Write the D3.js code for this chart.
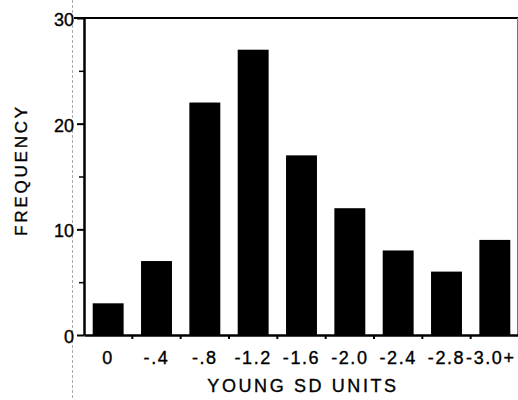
<!DOCTYPE html>
<html>
<head>
<meta charset="utf-8">
<script src="https://cdn.jsdelivr.net/npm/d3@7"></script>
<style>
  body { margin: 0; background: #fff; }
  svg text { font-family: "Liberation Sans", Arial, Helvetica, sans-serif; fill: #000; stroke: #000; stroke-width: 0.35px; }
</style>
</head>
<body>
<div id="app"></div>
<script>
'use strict'

const categories = ['0', '-.4', '-.8', '-1.2', '-1.6', '-2.0', '-2.4', '-2.8', '-3.0+']
const frequency = [3, 7, 22, 27, 17, 12, 8, 6, 9]
const majorTicks = [0, 10, 20, 30]
const minorTicks = [5, 15, 25]

const W = 518, H = 400
const plot = { left: 84, right: 519, top: 18, bottom: 335 }

const svg = d3.select('#app')
  .append('svg')
  .attr('width', W)
  .attr('height', H)

// scan fold line on the left
svg.append('line')
  .attr('x1', 72.5).attr('x2', 72.5)
  .attr('y1', 0).attr('y2', H)
  .attr('stroke', '#aaa')
  .attr('stroke-width', 1)
  .attr('stroke-dasharray', '3,2')

const x = d3.scaleBand()
  .domain(categories)
  .range([plot.left, plot.right])
  .paddingInner(0.36)
  .paddingOuter(0.18)

const y = d3.scaleLinear()
  .domain([0, 30])
  .range([plot.bottom, plot.top])

// frame: top and right
svg.append('line')
  .attr('x1', 74).attr('x2', W)
  .attr('y1', y(30)).attr('y2', y(30))
  .attr('stroke', '#000').attr('stroke-width', 2)

svg.append('line')
  .attr('x1', 517.5).attr('x2', 517.5)
  .attr('y1', y(30)).attr('y2', plot.bottom)
  .attr('stroke', '#777').attr('stroke-width', 1)

// bars
svg.selectAll('.bar')
  .data(frequency)
  .enter().append('rect')
  .attr('class', 'bar')
  .attr('x', (d, i) => x(categories[i]))
  .attr('y', d => y(d))
  .attr('width', x.bandwidth())
  .attr('height', d => y(0) - y(d))
  .attr('fill', '#000')

// y axis
const yAxis = svg.append('g')
  .attr('transform', `translate(${plot.left}, 0)`)
  .call(d3.axisLeft(y).tickValues(majorTicks).tickSize(7).tickPadding(3).tickSizeOuter(0))

yAxis.select('.domain').attr('stroke-width', 2.5)
yAxis.selectAll('.tick line').attr('stroke-width', 2)
yAxis.selectAll('.tick text').style('font-size', '18px').attr('dy', '0.42em')

svg.append('g')
  .attr('transform', `translate(${plot.left}, 0)`)
  .call(d3.axisLeft(y).tickValues(minorTicks).tickSize(5).tickFormat(''))
  .call(g => g.select('.domain').remove())
  .selectAll('line').attr('stroke-width', 1.5)

// x axis: labels centred under bars, ticks on bar boundaries
const xAxis = svg.append('g')
  .attr('transform', `translate(0, ${plot.bottom})`)
  .call(d3.axisBottom(x).tickSize(0).tickPadding(16).tickSizeOuter(0))

xAxis.select('.domain').attr('stroke-width', 2.5)
xAxis.selectAll('.tick text')
  .style('font-size', '18px')
  .style('letter-spacing', '1.6px')
  .attr('dx', (d, i) => i === categories.length - 1 ? -4 : 0)

const boundaries = d3.range(1, categories.length).map(i => plot.left + i * x.step())
svg.selectAll('.xtick')
  .data(boundaries)
  .enter().append('line')
  .attr('class', 'xtick')
  .attr('x1', d => d).attr('x2', d => d)
  .attr('y1', plot.bottom).attr('y2', plot.bottom + 4)
  .attr('stroke', '#000').attr('stroke-width', 2)

// titles
svg.append('text')
  .attr('x', 303)
  .attr('y', 392)
  .attr('text-anchor', 'middle')
  .style('font-size', '18px')
  .style('letter-spacing', '2.6px')
  .text('YOUNG SD UNITS')

svg.append('text')
  .attr('transform', 'translate(27, 170) rotate(-90)')
  .attr('text-anchor', 'middle')
  .style('font-size', '17px')
  .style('letter-spacing', '2.8px')
  .text('FREQUENCY')
</script>
</body>
</html>
